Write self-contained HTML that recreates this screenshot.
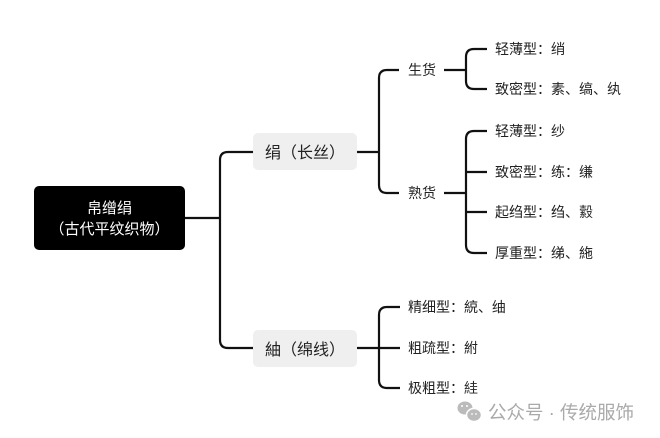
<!DOCTYPE html>
<html><head><meta charset="utf-8"><style>
html,body{margin:0;padding:0;background:#fff;}
svg{display:block;}
text{font-family:"Liberation Sans","Noto Sans CJK SC",sans-serif;}
</style></head><body>
<svg width="660" height="438" viewBox="0 0 660 438" xmlns="http://www.w3.org/2000/svg">
<rect width="660" height="438" fill="#fff"/>
<g fill="none" stroke="#111" stroke-width="2.2" stroke-linecap="butt">
<path d="M185 218 H220"/>
<path d="M253 152 H228 Q220 152 220 160 V340 Q220 348 228 348 H253"/>
<path d="M357 152 H379"/>
<path d="M399 70 H387 Q379 70 379 78 V185 Q379 193 387 193 H399"/>
<path d="M444 70 H466"/>
<path d="M487 49 H474 Q466 49 466 57 V81 Q466 89 474 89 H487"/>
<path d="M444 193 H466"/>
<path d="M487 131 H474 Q466 131 466 139 V245 Q466 253 474 253 H487"/>
<path d="M466 172 H487"/><path d="M466 212 H487"/>
<path d="M357 348 H400"/>
<path d="M400 307 H387 Q379 307 379 315 V380 Q379 388 387 388 H400"/>
</g>
<rect x="34" y="186" width="151" height="64" rx="5" fill="#000"/>
<text x="109.5" y="213" fill="#fff" font-size="15" text-anchor="middle">帛缯绢</text>
<text x="109.5" y="234" fill="#fff" font-size="15" text-anchor="middle">（古代平纹织物）</text>
<rect x="253" y="133" width="104" height="37" rx="5" fill="#efefef"/>
<text x="305" y="158" font-size="16" fill="#222" text-anchor="middle">绢（长丝）</text>
<rect x="253" y="330" width="104" height="37" rx="5" fill="#efefef"/>
<text x="305" y="355" font-size="16" fill="#222" text-anchor="middle">紬（绵线）</text>
<g font-size="14" fill="#222">
<text x="408" y="75">生货</text>
<text x="408" y="198">熟货</text>
<text x="495" y="54">轻薄型：绡</text>
<text x="495" y="94">致密型：素、缟、纨</text>
<text x="495" y="136">轻薄型：纱</text>
<text x="495" y="177">致密型：练：缣</text>
<text x="495" y="217">起绉型：绉、縠</text>
<text x="495" y="258">厚重型：绨、絁</text>
<text x="408" y="312">精细型：綂、䌷</text>
<text x="408" y="353">粗疏型：紨</text>
<text x="408" y="393">极粗型：絓</text>
</g>
<g fill="#bbb">
<ellipse cx="465" cy="408" rx="7.5" ry="6.5"/>
<ellipse cx="474" cy="415" rx="7.5" ry="6.5" stroke="#fff" stroke-width="1.5"/>
<circle cx="462" cy="406" r="1" fill="#fff"/><circle cx="467" cy="406" r="1" fill="#fff"/>
<circle cx="472" cy="414" r="0.9" fill="#fff"/><circle cx="476" cy="414" r="0.9" fill="#fff"/>
</g>
<text x="488" y="419" font-size="18.5" fill="#aaa">公众号 · 传统服饰</text>
</svg>
</body></html>
